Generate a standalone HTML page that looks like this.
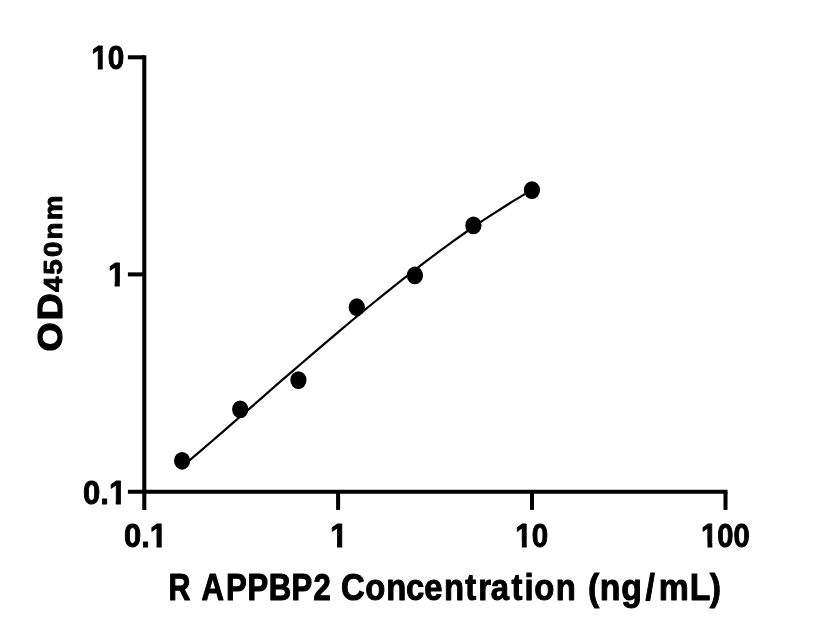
<!DOCTYPE html>
<html><head><meta charset="utf-8"><title>Chart</title>
<style>
html,body{margin:0;padding:0;background:#fff;}
body{width:816px;height:640px;overflow:hidden;}
svg{display:block;will-change:transform;}
text{font-family:"Liberation Sans",sans-serif;font-weight:bold;font-kerning:none;fill:#000;stroke:#000;stroke-linejoin:round;}
</style></head><body>
<svg width="816" height="640" viewBox="0 0 816 640">
<rect width="816" height="640" fill="#fff"/>
<g stroke="#000" stroke-width="4.05" fill="none" stroke-linecap="butt">
<path d="M144.3,55.3 V509.9"/>
<path d="M127.9,491.75 H727.5"/>
<path d="M127.9,57.3 H144"/>
<path d="M127.9,274.4 H144"/>
<path d="M338.1,491.75 V509.9"/>
<path d="M532,491.75 V509.9"/>
<path d="M725.5,491.75 V509.9"/>
</g>
<path d="M182.1,466.6 L192.1,458.1 L202.1,449.6 L212.1,441.0 L222.1,432.3 L232.1,423.7 L242.1,415.0 L252.1,406.3 L262.1,397.6 L272.0,388.9 L282.0,380.2 L292.0,371.6 L302.0,363.0 L312.0,354.4 L322.0,345.8 L332.0,337.3 L342.0,328.9 L352.0,320.5 L362.0,312.2 L372.0,304.0 L382.0,295.9 L392.0,287.8 L402.0,279.9 L412.0,272.1 L422.0,264.4 L432.0,256.8 L442.0,249.4 L451.9,242.1 L461.9,235.0 L471.9,228.0 L481.9,221.2 L491.9,214.6 L501.9,208.2 L511.9,201.9 L521.9,195.9 L531.9,190.0" stroke="#000" stroke-width="2.2" fill="none"/>
<g fill="#000">
<ellipse cx="182.1" cy="460.8" rx="8.1" ry="8.9"/>
<ellipse cx="240.2" cy="409.4" rx="8.1" ry="8.9"/>
<ellipse cx="298.4" cy="380.1" rx="8.1" ry="8.9"/>
<ellipse cx="356.8" cy="307.2" rx="8.1" ry="8.9"/>
<ellipse cx="414.9" cy="275.4" rx="8.1" ry="8.9"/>
<ellipse cx="473.4" cy="225.4" rx="8.1" ry="8.9"/>
<ellipse cx="531.9" cy="190.1" rx="8.1" ry="8.9"/>
</g>
<g>
<clipPath id="cy10" clipPathUnits="userSpaceOnUse"><path clip-rule="evenodd" d="M-500,-500H1500V500H-500Z M-0.78,-4.23H7.39V2.90H-0.78Z M12.90,-4.23H20.65V2.90H12.90Z"/></clipPath><text transform="translate(91.27,69.10) scale(0.8844,1)" font-size="33.6" stroke-width="0.9" clip-path="url(#cy10)">10</text>
<clipPath id="cy1" clipPathUnits="userSpaceOnUse"><path clip-rule="evenodd" d="M-500,-500H1500V500H-500Z M-0.78,-4.23H7.39V2.90H-0.78Z M12.90,-4.23H20.65V2.90H12.90Z"/></clipPath><text transform="translate(107.90,286.20) scale(0.9226,1)" font-size="33.6" stroke-width="0.9" clip-path="url(#cy1)">1</text>
<clipPath id="cy01" clipPathUnits="userSpaceOnUse"><path clip-rule="evenodd" d="M-500,-500H1500V500H-500Z M27.24,-4.23H35.41V2.90H27.24Z M40.92,-4.23H48.67V2.90H40.92Z"/></clipPath><text transform="translate(83.09,503.60) scale(0.9240,1)" font-size="33.6" stroke-width="0.9" clip-path="url(#cy01)">0.1</text>
<clipPath id="cx01" clipPathUnits="userSpaceOnUse"><path clip-rule="evenodd" d="M-500,-500H1500V500H-500Z M27.24,-4.23H35.41V2.90H27.24Z M40.92,-4.23H48.67V2.90H40.92Z"/></clipPath><text transform="translate(123.99,546.60) scale(0.9215,1)" font-size="33.6" stroke-width="0.9" clip-path="url(#cx01)">0.1</text>
<clipPath id="cx1" clipPathUnits="userSpaceOnUse"><path clip-rule="evenodd" d="M-500,-500H1500V500H-500Z M-0.78,-4.23H7.39V2.90H-0.78Z M12.90,-4.23H20.65V2.90H12.90Z"/></clipPath><text transform="translate(329.95,546.60) scale(0.9498,1)" font-size="33.6" stroke-width="0.9" clip-path="url(#cx1)">1</text>
<clipPath id="cx10" clipPathUnits="userSpaceOnUse"><path clip-rule="evenodd" d="M-500,-500H1500V500H-500Z M-0.78,-4.23H7.39V2.90H-0.78Z M12.90,-4.23H20.65V2.90H12.90Z"/></clipPath><text transform="translate(515.37,546.60) scale(0.8815,1)" font-size="33.6" stroke-width="0.9" clip-path="url(#cx10)">10</text>
<clipPath id="cx100" clipPathUnits="userSpaceOnUse"><path clip-rule="evenodd" d="M-500,-500H1500V500H-500Z M-0.78,-4.23H7.39V2.90H-0.78Z M12.90,-4.23H20.65V2.90H12.90Z"/></clipPath><text transform="translate(701.10,546.60) scale(0.8689,1)" font-size="33.6" stroke-width="0.9" clip-path="url(#cx100)">100</text>
</g>
<g>
<text transform="translate(168.51,599.90) scale(0.8153,1)" font-size="37.3" stroke-width="1.1">R</text>
<text transform="translate(201.40,599.90) scale(0.8330,1)" font-size="37.3" stroke-width="1.1" dx="0.00 2.63 0.81 0.71 0.53 1.31">APPBP2</text>
<text transform="translate(341.01,599.90) scale(0.8813,1)" font-size="37.3" stroke-width="1.0" dx="0.00 0.70 0.80 -0.31 0.06 1.52 1.48 2.27 -0.33 2.86 2.24 0.85 1.51">Concentration</text>
<text transform="translate(587.94,599.90) scale(0.9074,1)" font-size="37.3" stroke-width="1.0" dx="0.00 0.65 0.86 3.99 4.28 0.85 -0.81">(ng/mL)</text>
</g>
<g transform="translate(62.0,350.4) rotate(-90)">
<text transform="translate(-1.05,0.00) scale(1.0886,1)" font-size="34.4" stroke-width="1.2" dx="0.00 1.96">OD</text>
<text transform="translate(58.28,0.00) scale(1.0460,1)" font-size="26.6" stroke-width="0.9" dx="0.00 1.79 2.28 1.76 2.23">450nm</text>
</g>
</svg>
</body></html>
